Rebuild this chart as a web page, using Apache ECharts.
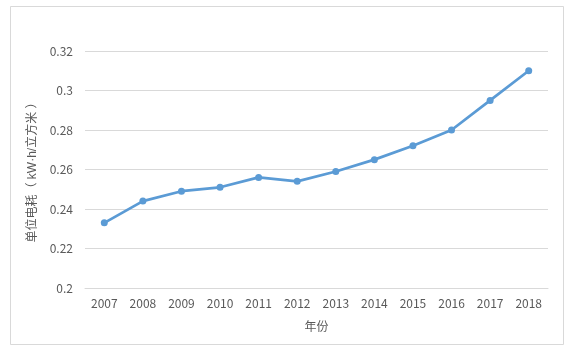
<!DOCTYPE html>
<html>
<head>
<meta charset="utf-8">
<script src="https://cdn.jsdelivr.net/npm/echarts@6/dist/echarts.min.js"></script>
<style>html,body{margin:0;padding:0;background:#fff;}#c{width:566px;height:351px;}</style>
</head>
<body>
<div id="c"></div>
<script>
const years = ['2007','2008','2009','2010','2011','2012','2013','2014','2015','2016','2017','2018'];
const consumption = [0.233, 0.244, 0.249, 0.251, 0.256, 0.254, 0.259, 0.265, 0.272, 0.280, 0.295, 0.310];
const yTicks = [0.2, 0.22, 0.24, 0.26, 0.28, 0.3, 0.32];
const xName = '年份';
const yName = '单位电耗（ kW·h/立方米 ）';

const font = '"Microsoft YaHei","Noto Sans CJK SC","Noto Sans",sans-serif';
const nameFont = '"Liberation Sans","Noto Sans CJK SC",sans-serif';
const chart = echarts.init(document.getElementById('c'), null, {renderer:'canvas'});
chart.setOption({
  animation: false,
  backgroundColor: '#fff',
  graphic: [{
    type: 'rect', left: 8, top: 4,
    shape: {width: 553, height: 338},
    style: {fill: 'none', stroke: '#d9d9d9', lineWidth: 1}
  }],
  grid: {left: 85, right: 18, top: 51, bottom: 63},
  xAxis: {
    type: 'category',
    data: years,
    boundaryGap: true,
    name: xName,
    nameLocation: 'middle',
    nameGap: 32,
    nameTextStyle: {color: '#595959', fontSize: 12, fontFamily: font},
    axisLine: {show: true, lineStyle: {color: '#d9d9d9'}},
    axisTick: {show: false},
    axisLabel: {color: '#595959', fontSize: 12, fontFamily: font, margin: 9, interval: 0}
  },
  yAxis: {
    type: 'value',
    min: yTicks[0],
    max: yTicks[yTicks.length - 1],
    interval: 0.02,
    name: yName,
    nameLocation: 'middle',
    nameGap: 43,
    nameTextStyle: {color: '#595959', fontSize: 12, fontFamily: nameFont},
    axisLine: {show: false},
    axisTick: {show: false},
    splitLine: {lineStyle: {color: '#d9d9d9'}},
    axisLabel: {color: '#595959', fontSize: 12, fontFamily: font, margin: 12,
      formatter: v => String(Math.round(v * 100) / 100)}
  },
  series: [{
    type: 'line',
    data: consumption,
    lineStyle: {color: '#5B9BD5', width: 2.75},
    itemStyle: {color: '#5B9BD5'},
    symbol: 'circle',
    symbolSize: 7
  }]
});
</script>
</body>
</html>
